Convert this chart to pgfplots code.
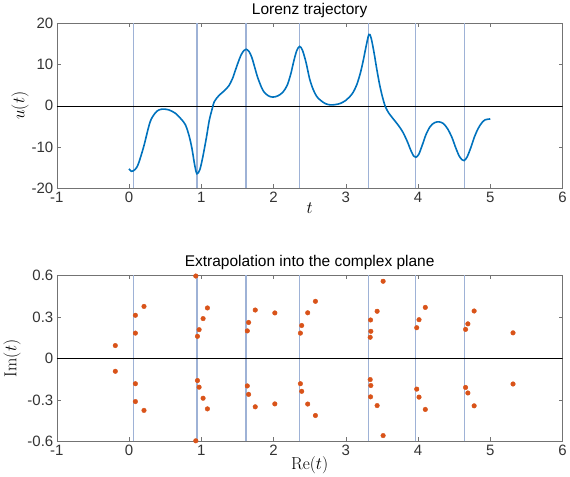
\documentclass[border=0pt]{standalone}
\usepackage{pgfplots}
\pgfplotsset{compat=1.18}
\usepackage[no-math]{fontspec}
\setmainfont{Liberation Sans}

\definecolor{mblue}{rgb}{0,0.447,0.741}
\definecolor{morange}{rgb}{0.85,0.325,0.098}
\definecolor{vline}{rgb}{0.62,0.70,0.84}
\definecolor{axgray}{rgb}{0.45,0.45,0.45}
\definecolor{txtgray}{rgb}{0.2,0.2,0.2}

\pgfplotsset{
  mstyle/.style={
    scale only axis,
    width=506pt,
    xmin=-1, xmax=6,
    xtick={-1,0,...,6},
    axis line style={axgray},
    every tick/.style={axgray},
    tick align=inside,
    major tick length=4pt,
    tick label style={font=\fontsize{15}{17}\selectfont, text=txtgray},
    /pgf/number format/assume math mode=true,
    label style={font=\fontsize{16}{18}\selectfont},
    title style={font=\fontsize{15.5}{18}\selectfont, yshift=-4pt},
    unbounded coords=jump,
  }
}

\begin{document}
\begin{tikzpicture}
% Lorenz trajectory
\begin{axis}[mstyle,
  at={(0,0)}, anchor=north west,
  height=165pt,
  ymin=-20, ymax=20,
  ytick={-20,-10,0,10,20},
  title={Lorenz trajectory},
  xlabel={$t$}, ylabel={$u(t)$},
  xlabel style={yshift=6pt},
  ylabel style={yshift=-4pt},
]
\addplot[vline, line width=1.2pt] coordinates {
 (0.06,-20) (0.06,20) (nan,nan)
 (0.94,-20) (0.94,20) (nan,nan)
 (1.62,-20) (1.62,20) (nan,nan)
 (2.36,-20) (2.36,20) (nan,nan)
 (3.32,-20) (3.32,20) (nan,nan)
 (3.97,-20) (3.97,20) (nan,nan)
 (4.64,-20) (4.64,20)
};
\addplot[black, line width=0.5pt] coordinates {(-1,0) (6,0)};
\addplot[mblue, line width=1.6pt, smooth] coordinates {
 (0,-15.3) (0.03,-15.9) (0.06,-15.8) (0.12,-14.5) (0.2,-10.1) (0.29,-4.0)
 (0.36,-1.8) (0.41,-1.05) (0.47,-0.8) (0.55,-1.0) (0.64,-1.8) (0.72,-3.2)
 (0.78,-4.6) (0.83,-7.2) (0.87,-10.3) (0.91,-14.5) (0.94,-16.5) (0.98,-15.5)
 (1.02,-12.5) (1.07,-7.8) (1.11,-3.6) (1.15,-0.8) (1.18,1.0) (1.24,2.4)
 (1.29,3.2) (1.34,4.0) (1.38,4.8) (1.43,6.5) (1.47,8.5) (1.51,10.5)
 (1.55,12.3) (1.59,13.4) (1.62,13.7) (1.66,13.2) (1.7,11.7) (1.74,9.3)
 (1.78,6.9) (1.83,4.6) (1.87,3.3) (1.93,2.4) (1.99,2.1) (2.06,2.4)
 (2.13,3.3) (2.19,5.0) (2.24,7.8) (2.28,10.8) (2.32,13.3) (2.36,14.4)
 (2.40,13.5) (2.45,10.5) (2.50,6.5) (2.55,3.9) (2.60,2.2) (2.66,1.2)
 (2.72,0.5) (2.79,0.2) (2.86,0.3) (2.93,0.6) (3.0,1.3) (3.05,2.1)
 (3.1,3.2) (3.15,5.0) (3.2,7.8) (3.24,10.8) (3.28,14.3) (3.32,17.3)
 (3.35,16.5) (3.39,13.0) (3.43,8.8) (3.47,5.0) (3.51,2.0) (3.55,-0.3)
 (3.6,-1.9) (3.64,-2.8) (3.73,-4.8) (3.79,-6.4) (3.85,-8.6) (3.9,-10.8)
 (3.94,-12.2) (3.97,-12.5) (4.01,-11.8) (4.06,-9.5) (4.11,-7.0) (4.17,-5.0)
 (4.23,-4.1) (4.29,-3.9) (4.35,-4.3) (4.41,-5.6) (4.47,-7.7) (4.52,-10.1)
 (4.57,-12.2) (4.61,-13.1) (4.64,-13.3) (4.68,-12.4) (4.73,-10.2) (4.78,-7.6)
 (4.83,-5.6) (4.88,-4.2) (4.93,-3.4) (5.0,-3.2)
};
\end{axis}

% complex plane
\begin{axis}[mstyle,
  at={(0,-252.3pt)}, anchor=north west,
  height=166pt,
  ymin=-0.6, ymax=0.6,
  ytick={-0.6,-0.3,0,0.3,0.6},
  yticklabel style={/pgf/number format/fixed},
  title={Extrapolation into the complex plane},
  xlabel={$\mathrm{Re}(t)$}, ylabel={$\mathrm{Im}(t)$},
  xlabel style={yshift=6pt},
]
\addplot[vline, line width=1.2pt] coordinates {
 (0.06,-0.6) (0.06,0.6) (nan,nan)
 (0.94,-0.6) (0.94,0.6) (nan,nan)
 (1.62,-0.6) (1.62,0.6) (nan,nan)
 (2.36,-0.6) (2.36,0.6) (nan,nan)
 (3.32,-0.6) (3.32,0.6) (nan,nan)
 (3.97,-0.6) (3.97,0.6) (nan,nan)
 (4.64,-0.6) (4.64,0.6)
};
\addplot[black, line width=0.5pt] coordinates {(-1,0) (6,0)};
\addplot[only marks, mark=*, mark size=2.3pt, color=morange, clip=false] coordinates {
 (-0.19,0.093) (-0.19,-0.093)
 (0.088,0.183) (0.088,-0.183) (0.088,0.312) (0.088,-0.312) (0.207,0.376) (0.207,-0.376)
 (0.924,0.596) (0.924,-0.596)
 (0.947,0.160) (0.947,-0.160) (0.97,0.208) (0.97,-0.208) (1.025,0.288) (1.025,-0.288) (1.085,0.365) (1.085,-0.365)
 (1.637,0.199) (1.637,-0.199) (1.655,0.260) (1.655,-0.260) (1.747,0.350) (1.747,-0.350) (2.018,0.329) (2.018,-0.329)
 (2.372,0.183) (2.372,-0.183) (2.39,0.238) (2.39,-0.238) (2.473,0.330) (2.473,-0.330) (2.58,0.413) (2.58,-0.413)
 (3.517,0.558) (3.517,-0.558)
 (3.338,0.153) (3.338,-0.153) (3.347,0.196) (3.347,-0.196) (3.343,0.278) (3.343,-0.278) (3.434,0.341) (3.434,-0.341)
 (3.982,0.222) (3.982,-0.222) (4.014,0.280) (4.014,-0.280) (4.101,0.369) (4.101,-0.369)
 (4.658,0.210) (4.658,-0.210) (4.69,0.250) (4.69,-0.250) (4.777,0.343) (4.777,-0.343)
 (5.315,0.185) (5.315,-0.185)
};
\end{axis}
\end{tikzpicture}
\end{document}
